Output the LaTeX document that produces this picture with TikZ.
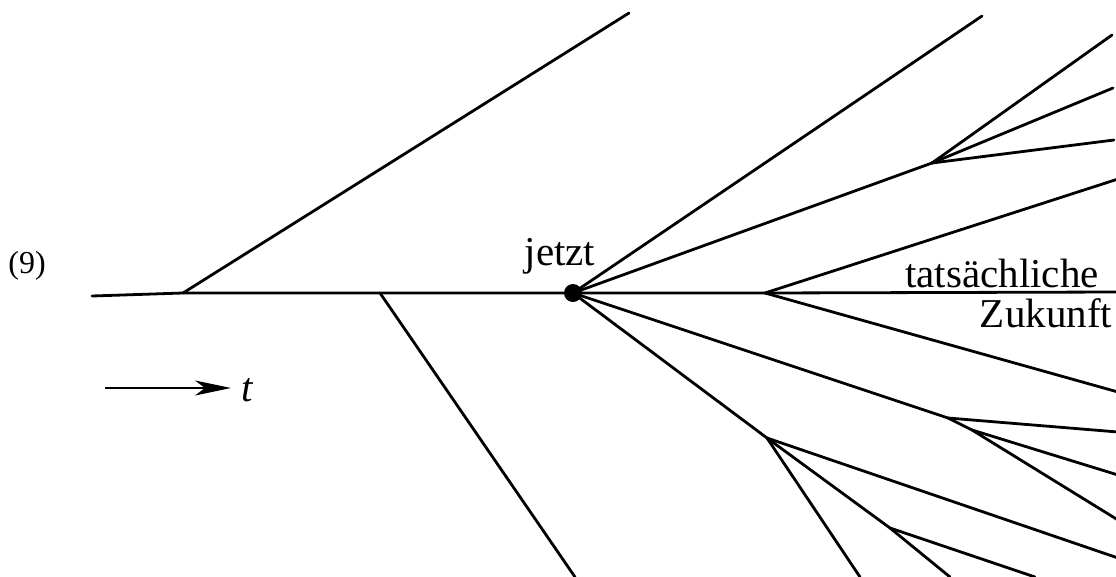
\documentclass[tikz,border=0pt]{standalone}
\usepackage{fontspec}
\setmainfont{Liberation Serif}
\usetikzlibrary{arrows.meta}
\begin{document}
\begin{tikzpicture}[x=1pt,y=-1pt,
  branch/.style={line width=2.8pt,line cap=round,line join=round},
  lbl/.style={font=\fontsize{41}{41}\selectfont,inner sep=0pt,anchor=base}]
\useasboundingbox (0,0) rectangle (1116,576);
% coordinates
\coordinate (s) at (92,296);
\coordinate (b1) at (183,293);
\coordinate (b2) at (380,293);
\coordinate (J) at (573,293);
\coordinate (b3) at (765,293);
\coordinate (E) at (1118,292);
\coordinate (T1) at (629,13);
\coordinate (B1) at (575,577);
\coordinate (T2) at (982,16);
\coordinate (U1) at (932,163);
\coordinate (U1a) at (1112,35);
\coordinate (U1b) at (1113,88);
\coordinate (U1c) at (1114,140);
\coordinate (R1) at (1118,179);
\coordinate (R2) at (1118,392);
\coordinate (L1) at (948,418);
\coordinate (L2) at (972,430);
\coordinate (L1a) at (1118,432);
\coordinate (L2a) at (1118,475);
\coordinate (L2b) at (1118,520);
\coordinate (D1) at (767,438);
\coordinate (D1a) at (860,577);
\coordinate (D1b) at (1118,558);
\coordinate (D2) at (890,528);
\coordinate (D2a) at (950,577);
\coordinate (D2b) at (1035,577);
% main line
\draw[branch] (s) -- (b1) -- (b2) -- (J) -- (b3) -- (E);
% past branches
\draw[branch] (b1) -- (T1);
\draw[branch] (b2) -- (B1);
% future branches up
\draw[branch] (J) -- (T2);
\draw[branch] (J) -- (U1);
\draw[branch] (U1) -- (U1a);
\draw[branch] (U1) -- (U1b);
\draw[branch] (U1) -- (U1c);
\draw[branch] (b3) -- (R1);
\draw[branch] (b3) -- (R2);
% future branches down
\draw[branch] (J) -- (L1);
\draw[branch] (L1) -- (L1a);
\draw[branch] (L1) -- (L2) -- (L2b);
\draw[branch] (L2) -- (L2a);
\draw[branch] (J) -- (D1);
\draw[branch] (D1) -- (D1a);
\draw[branch] (D1) -- (D1b);
\draw[branch] (D1) -- (D2);
\draw[branch] (D2) -- (D2a);
\draw[branch] (D2) -- (D2b);
% now
\fill (J) circle[radius=9];
\node[lbl] (jetzt) at (560,265) {jetzt};
\node[lbl] (tats) at (1002,287) {tatsächliche};
\node[lbl] (zuk) at (1046,327) {Zukunft};
\node[lbl,font=\fontsize{32}{32}\selectfont] (nine) at (27,273) {(9)};
% time arrow
\coordinate (a0) at (105,388);
\node[lbl,font=\fontsize{41}{41}\selectfont\itshape] (t) at (247,401) {t};
\draw[line width=2.4pt,-{Stealth[length=36pt,width=15pt,inset=10pt]}] (a0) -- (231,388);
\end{tikzpicture}
\end{document}
